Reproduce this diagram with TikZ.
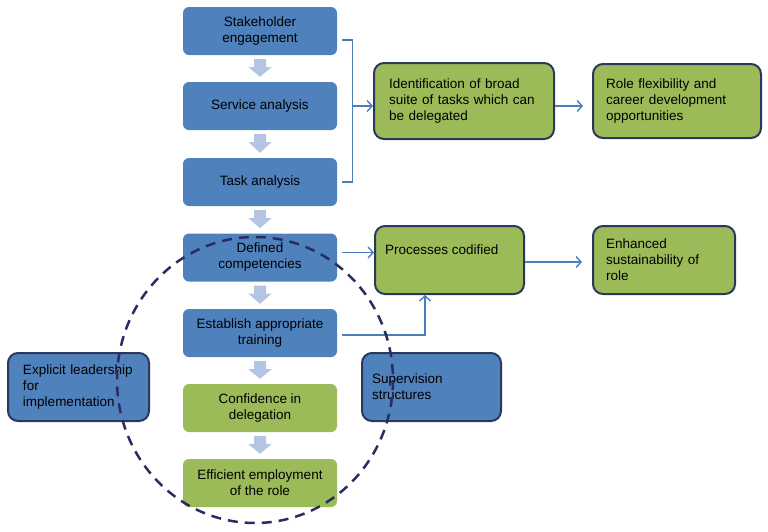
\documentclass[tikz,border=0pt]{standalone}
\usepackage{fontspec}
\setmainfont{Liberation Sans}
\usetikzlibrary{arrows.meta,calc}
\definecolor{boxblue}{HTML}{4F81BD}
\definecolor{boxgreen}{HTML}{9BBB59}
\definecolor{borderc}{HTML}{2C3859}
\definecolor{connc}{HTML}{4A7EBB}
\definecolor{blockc}{HTML}{B3C5E2}
\definecolor{dashc}{HTML}{2A2C62}
\newcommand\blockarrow[2]{%
  \fill[blockc] ($(#1.south)+(-6,4)$) -- ($(#1.south)+(6,4)$) -- ($(#1.south)+(6,12)$)
    -- ($(#1.south)+(11.5,12)$) -- ($(#2.north)+(0,-5)$) -- ($(#1.south)+(-11.5,12)$)
    -- ($(#1.south)+(-6,12)$) -- cycle;}
\begin{document}
\begin{tikzpicture}[x=1pt,y=-1pt,
  font=\fontsize{13.5}{16}\selectfont,
  flow/.style={fill=boxblue, rounded corners=6pt, minimum width=154pt, minimum height=48pt, align=center, inner sep=2pt},
  flowg/.style={flow, fill=boxgreen},
  outbox/.style={draw=borderc, line width=2pt, rounded corners=10pt, fill=boxgreen, align=left, anchor=north west, inner ysep=2pt},
  conn/.style={draw=connc, line width=1.4pt},
  arr/.style={conn, -{Straight Barb[length=5pt,width=11pt]}},
  dashcirc/.style={draw=dashc, line width=2.5pt, dash pattern=on 10pt off 7pt}]
\useasboundingbox (0,0) rectangle (768,531);
% left column
\node[flow] (s1) at (260,31) {Stakeholder\\engagement};
\node[flow] (s2) at (260,106) {Service analysis};
\node[flow] (s3) at (260,182) {Task analysis};
\node[flow] (s4) at (260,257.5) {Defined\\competencies};
\node[flow] (s5) at (260,333) {Establish appropriate\\training};
\node[flowg] (s6) at (260,408) {Confidence in\\delegation};
\node[flowg] (s7) at (260,483) {Efficient employment\\of the role};
\blockarrow{s1}{s2}
\blockarrow{s2}{s3}
\blockarrow{s3}{s4}
\blockarrow{s4}{s5}
\blockarrow{s5}{s6}
\blockarrow{s6}{s7}
% right boxes
\node[outbox, text width=150pt, inner xsep=15pt, minimum height=76pt] (id) at (373,62) {Identification of broad\\suite of tasks which can\\be delegated};
\node[outbox, text width=142pt, inner xsep=13pt, minimum height=74pt] (rf) at (592,63) {Role flexibility and\\career development\\opportunities};
\node[outbox, minimum width=149pt, minimum height=68pt, inner sep=0pt] (proc) at (374,225) {};
\node[anchor=west, inner sep=0pt] (proct) at ($(proc.north west)+(11,25)$) {Processes codified};
\node[outbox, text width=116pt, inner xsep=13pt, minimum height=68pt] (enh) at (592,225) {Enhanced\\sustainability of\\role};
\node[outbox, fill=boxblue, text width=111pt, inner xsep=15pt, minimum height=68pt] (lead) at (7,352) {Explicit leadership\\for\\implementation};
\node[outbox, fill=boxblue, text width=119pt, inner xsep=10pt, minimum height=68pt] (sup) at (361,352) {Supervision\\structures};
% connectors
\draw[conn] ($(s1.east)+(5,9)$) -- ++(10,0) coordinate (bt) -- (bt |- s3.east) -- ($(s3.east)+(5,0)$);
\coordinate (bm) at (bt |- s2.east);
\draw[arr] (bm) -- (id.west |- bm);
\draw[arr] ($(id.east)+(0,5)$) coordinate (c0) -- ($(rf.west |- c0)+(-9,0)$);
\draw[arr] ($(s4.east)+(5,-5)$) coordinate (c1) -- (proc.west |- c1);
\draw[arr] ($(proc.east)+(0,2)$) coordinate (c2) -- ($(enh.west |- c2)+(-10,0)$);
\draw[arr] ($(s5.east)+(5,2)$) -| ($(proc.south west)+(51,0)$);
% dashed ellipse
\draw[dashcirc] (255,380) ellipse [x radius=138, y radius=143];
\end{tikzpicture}
\end{document}
